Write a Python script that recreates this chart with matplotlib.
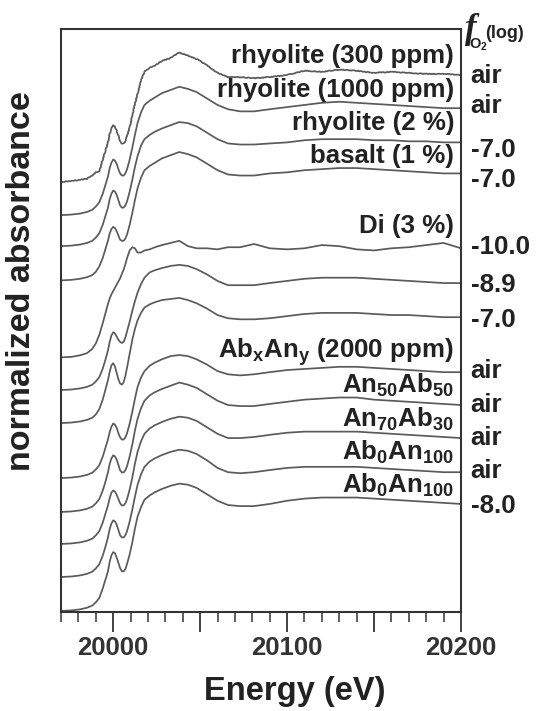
import matplotlib
matplotlib.use('Agg')
import matplotlib.pyplot as plt
from matplotlib.ticker import MultipleLocator, FuncFormatter

plt.rcParams['font.family'] = ['Liberation Sans', 'DejaVu Sans']
plt.rcParams['font.weight'] = 'bold'
plt.rcParams['mathtext.fontset'] = 'custom'
plt.rcParams['mathtext.rm'] = 'Liberation Sans:bold'
plt.rcParams['mathtext.it'] = 'Liberation Sans:bold'
plt.rcParams['mathtext.bf'] = 'Liberation Sans:bold'

# energy grid (eV), denser around the pre-edge peak and the edge
energy = [19970, 19976, 19981, 19985, 19988, 19990, 19992, 19994, 19995.5, 19997,
          19998, 19999, 20000, 20001, 20002, 20003, 20004, 20005, 20006, 20007,
          20008, 20009.5, 20011, 20012.5, 20014, 20016, 20018, 20021, 20024, 20028,
          20033, 20038, 20043, 20048, 20054, 20060, 20066, 20073, 20081, 20090,
          20100, 20110, 20120, 20130, 20140, 20150, 20160, 20170, 20180, 20190, 20200]

# normalized absorbance of each spectrum, top to bottom
rhy300 = [0.00, 0.01, 0.02, 0.03, 0.06, 0.09, 0.10, 0.21, 0.29, 0.37,
          0.45, 0.50, 0.53, 0.52, 0.48, 0.43, 0.38, 0.36, 0.36, 0.38,
          0.43, 0.51, 0.62, 0.73, 0.82, 0.95, 1.03, 1.07, 1.09, 1.13,
          1.16, 1.21, 1.18, 1.15, 1.09, 1.02, 0.98, 0.98, 0.97, 0.98,
          1.00, 1.04, 1.03, 1.05, 1.04, 1.02, 1.03, 1.02, 1.01, 1.01, 1.00]
rhy1000 = [0.00, 0.005, 0.015, 0.03, 0.05, 0.08, 0.12, 0.20, 0.28, 0.36,
           0.44, 0.49, 0.52, 0.51, 0.48, 0.43, 0.39, 0.37, 0.37, 0.39,
           0.43, 0.52, 0.63, 0.75, 0.86, 0.96, 1.03, 1.07, 1.10, 1.14,
           1.17, 1.20, 1.18, 1.15, 1.09, 1.03, 0.99, 0.97, 0.97, 0.99,
           1.01, 1.03, 1.05, 1.06, 1.05, 1.04, 1.03, 1.02, 1.01, 1.00, 1.00]
rhy2 = [0.00, 0.005, 0.015, 0.03, 0.05, 0.08, 0.12, 0.20, 0.28, 0.36,
        0.44, 0.49, 0.52, 0.51, 0.48, 0.43, 0.38, 0.36, 0.36, 0.38,
        0.42, 0.51, 0.62, 0.74, 0.84, 0.94, 1.00, 1.04, 1.07, 1.10,
        1.13, 1.16, 1.15, 1.12, 1.06, 1.00, 0.96, 0.95, 0.95, 0.96,
        0.97, 0.99, 1.00, 1.00, 1.00, 0.99, 0.99, 0.98, 0.98, 0.97, 0.97]
basalt = [0.00, 0.005, 0.015, 0.03, 0.05, 0.08, 0.13, 0.21, 0.29, 0.37,
          0.44, 0.48, 0.50, 0.49, 0.46, 0.42, 0.38, 0.37, 0.37, 0.39,
          0.43, 0.52, 0.63, 0.75, 0.86, 0.96, 1.03, 1.07, 1.10, 1.14,
          1.17, 1.20, 1.18, 1.15, 1.09, 1.03, 0.99, 0.98, 0.98, 1.00,
          1.01, 1.03, 1.04, 1.05, 1.05, 1.04, 1.03, 1.02, 1.01, 1.00, 1.00]
di100 = [0.00, 0.005, 0.02, 0.04, 0.08, 0.13, 0.21, 0.32, 0.41, 0.50,
         0.55, 0.59, 0.62, 0.65, 0.68, 0.71, 0.74, 0.78, 0.82, 0.87,
         0.93, 1.00, 1.03, 1.02, 0.98, 0.98, 1.00, 1.01, 1.03, 1.05,
         1.07, 1.09, 1.04, 1.02, 1.02, 1.01, 1.03, 1.03, 1.06, 1.02,
         1.01, 1.02, 1.05, 1.04, 1.01, 1.00, 1.02, 1.03, 1.05, 1.07, 1.02]
di89 = [0.00, 0.005, 0.015, 0.03, 0.05, 0.08, 0.12, 0.20, 0.28, 0.37,
        0.45, 0.51, 0.54, 0.53, 0.50, 0.47, 0.45, 0.44, 0.45, 0.49,
        0.55, 0.64, 0.74, 0.83, 0.91, 0.99, 1.05, 1.10, 1.12, 1.14,
        1.16, 1.17, 1.16, 1.13, 1.08, 1.02, 0.98, 0.98, 0.98, 1.00,
        1.02, 1.04, 1.05, 1.05, 1.05, 1.04, 1.03, 1.02, 1.01, 1.00, 1.00]
di70 = [0.00, 0.005, 0.015, 0.03, 0.05, 0.08, 0.13, 0.22, 0.31, 0.40,
        0.48, 0.54, 0.56, 0.53, 0.47, 0.41, 0.37, 0.36, 0.38, 0.44,
        0.52, 0.65, 0.78, 0.88, 0.96, 1.03, 1.08, 1.11, 1.13, 1.15,
        1.16, 1.17, 1.15, 1.12, 1.07, 1.01, 0.98, 0.97, 0.97, 0.98,
        1.00, 1.02, 1.03, 1.03, 1.03, 1.02, 1.01, 1.01, 1.00, 0.99, 0.99]
abxany = [0.00, 0.005, 0.015, 0.03, 0.05, 0.08, 0.12, 0.20, 0.28, 0.36,
          0.43, 0.48, 0.51, 0.50, 0.47, 0.42, 0.38, 0.36, 0.36, 0.38,
          0.42, 0.51, 0.62, 0.74, 0.85, 0.94, 1.00, 1.05, 1.08, 1.11,
          1.14, 1.15, 1.14, 1.11, 1.06, 1.00, 0.97, 0.96, 0.97, 0.99,
          1.01, 1.02, 1.03, 1.04, 1.04, 1.03, 1.02, 1.01, 1.00, 0.99, 0.99]
an50 = [0.00, 0.005, 0.015, 0.03, 0.05, 0.08, 0.12, 0.20, 0.28, 0.37,
        0.45, 0.50, 0.53, 0.52, 0.49, 0.44, 0.39, 0.37, 0.37, 0.39,
        0.43, 0.52, 0.63, 0.76, 0.87, 0.97, 1.04, 1.09, 1.12, 1.15,
        1.18, 1.21, 1.19, 1.16, 1.10, 1.04, 1.00, 0.99, 0.99, 1.01,
        1.03, 1.05, 1.06, 1.07, 1.07, 1.05, 1.04, 1.03, 1.02, 1.01, 1.00]
an70 = [0.00, 0.005, 0.015, 0.03, 0.05, 0.08, 0.12, 0.20, 0.28, 0.36,
        0.43, 0.48, 0.50, 0.49, 0.46, 0.42, 0.38, 0.36, 0.36, 0.38,
        0.42, 0.51, 0.62, 0.75, 0.86, 0.96, 1.03, 1.08, 1.11, 1.14,
        1.17, 1.19, 1.18, 1.15, 1.09, 1.03, 0.99, 0.99, 1.00, 1.02,
        1.04, 1.05, 1.05, 1.05, 1.05, 1.04, 1.03, 1.02, 1.01, 1.00, 0.99]
an100_air = [0.00, 0.005, 0.015, 0.03, 0.05, 0.08, 0.12, 0.20, 0.28, 0.37,
             0.45, 0.50, 0.53, 0.52, 0.49, 0.44, 0.39, 0.37, 0.37, 0.39,
             0.43, 0.52, 0.63, 0.75, 0.86, 0.96, 1.03, 1.08, 1.11, 1.14,
             1.17, 1.19, 1.18, 1.15, 1.09, 1.02, 0.98, 0.97, 0.98, 1.00,
             1.02, 1.03, 1.03, 1.03, 1.03, 1.02, 1.01, 1.00, 0.99, 0.98, 0.98]
an100_80 = [0.00, 0.005, 0.015, 0.03, 0.05, 0.08, 0.12, 0.21, 0.29, 0.37,
            0.46, 0.52, 0.55, 0.54, 0.50, 0.45, 0.40, 0.37, 0.37, 0.39,
            0.44, 0.53, 0.64, 0.77, 0.88, 0.97, 1.04, 1.08, 1.11, 1.14,
            1.17, 1.19, 1.18, 1.15, 1.09, 1.03, 0.99, 0.98, 0.98, 1.00,
            1.03, 1.05, 1.06, 1.06, 1.06, 1.05, 1.04, 1.03, 1.02, 1.01, 1.00]

spectra = [rhy300, rhy1000, rhy2, basalt, di100, di89, di70, abxany, an50, an70, an100_air, an100_80]
offsets = [4.01, 3.70, 3.41, 3.09, 2.37, 2.065, 1.756, 1.242, 0.925, 0.626, 0.317, 0.0]

sample_labels = ['rhyolite (300 ppm)', 'rhyolite (1000 ppm)', 'rhyolite (2 %)', 'basalt (1 %)',
                 'Di (3 %)', r'Ab$_x$An$_y$ (2000 ppm)', r'An$_{50}$Ab$_{50}$', r'An$_{70}$Ab$_{30}$',
                 r'Ab$_0$An$_{100}$', r'Ab$_0$An$_{100}$']
sample_y = [5.121, 4.803, 4.495, 4.186, 3.532, 2.364, 2.037, 1.719, 1.411, 1.102]

fo2_labels = ['air', 'air', '-7.0', '-7.0', '-10.0', '-8.9', '-7.0', 'air', 'air', 'air', 'air', '-8.0']
fo2_y = [4.934, 4.654, 4.242, 3.962, 3.336, 2.981, 2.654, 2.177, 1.859, 1.551, 1.242, 0.915]

fig = plt.figure(figsize=(5.39, 7.11), dpi=100)
ax = fig.add_axes([61/539, 99/711, 400/539, 583/711])

for i, (vals, off) in enumerate(zip(spectra, offsets)):
    ln, = ax.plot(energy, [v + off for v in vals], color='#5a5a5a', lw=1.25)
    if i == 0:
        ln.set_sketch_params(scale=0.35, length=2.5, randomness=3)   # noisy low-concentration scan

ax.set_xlim(19970, 20200)
ax.set_ylim(-0.01, 5.44)

# sample names inside the frame, fO2 values outside on the right
for txt, y in zip(sample_labels, sample_y):
    ax.text(20196, y, txt, ha='right', va='baseline', fontsize=18.6, color='#222222')
for txt, y in zip(fo2_labels, fo2_y):
    ax.text(20205.5, y, txt, ha='left', va='baseline', fontsize=18.6, color='#222222', clip_on=False)

# column header f_O2 (log)
ax.text(20202.3, 5.36, 'f', fontsize=25, family='Liberation Serif', fontweight='bold', style='italic',
        ha='left', va='baseline', color='#222222', clip_on=False)
ax.text(20204.5, 5.26, r'O$_2$', fontsize=10.5, ha='left', va='baseline', color='#222222', clip_on=False)
ax.text(20214, 5.36, '(log)', fontsize=13, ha='left', va='baseline', color='#222222', clip_on=False)

ax.xaxis.set_major_locator(MultipleLocator(50))
ax.xaxis.set_minor_locator(MultipleLocator(10))
ax.xaxis.set_major_formatter(FuncFormatter(lambda v, p: '%d' % v if round(v) % 100 == 0 else ''))
ax.tick_params(axis='x', which='major', direction='out', length=14.4, width=1.3, pad=3,
               labelsize=18.5, colors='#333333')
ax.tick_params(axis='x', which='minor', direction='out', length=7.5, width=1.1, colors='#333333')
ax.tick_params(axis='y', left=False, labelleft=False)

for sp in ax.spines.values():
    sp.set_color('#333333')
    sp.set_linewidth(1.5)

ax.set_xlabel('Energy (eV)', fontsize=23.5, fontweight='bold', color='#222222')
ax.xaxis.set_label_coords(0.585, -0.11)
ax.set_ylabel('normalized absorbance', fontsize=24.5, fontweight='bold', color='#222222')
ax.yaxis.set_label_coords(-0.06, 0.568)

fig.savefig('out.png', dpi=100)
